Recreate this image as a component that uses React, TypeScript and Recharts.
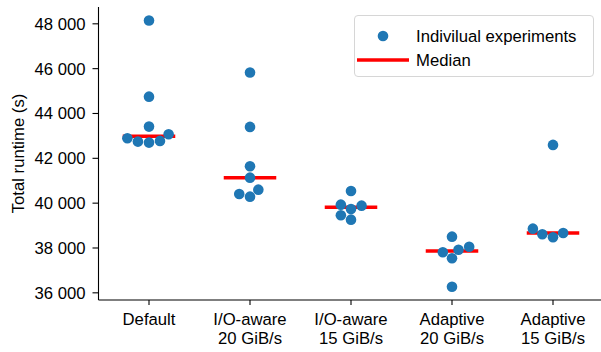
import React from 'react';
import { ScatterChart, Scatter, XAxis, YAxis, ReferenceLine, Legend } from 'recharts';

// ---- data ----
const categoryLine1 = ['Default', 'I/O-aware', 'I/O-aware', 'Adaptive', 'Adaptive'];
const categoryLine2 = ['', '20 GiB/s', '15 GiB/s', '20 GiB/s', '15 GiB/s'];
const defaultRuns = [48150, 44750, 43415, 43076, 42897, 42777, 42746, 42701];
const ioAware20Runs = [45826, 43402, 41647, 41138, 40603, 40411, 40290];
const ioAware15Runs = [40545, 39934, 39889, 39741, 39460, 39264];
const adaptive20Runs = [38506, 38058, 37924, 37808, 37540, 36272];
const adaptive15Runs = [42598, 38862, 38670, 38612, 38478];
const yTicks = [36000, 38000, 40000, 42000, 44000, 46000, 48000];
const xTicks = [0, 1, 2, 3, 4];

const groups = [defaultRuns, ioAware20Runs, ioAware15Runs, adaptive20Runs, adaptive15Runs];

// ---- layout ----
const CHART_W = 610;
const CHART_H = 352;
const MARGIN = { top: 7, right: 6.5, left: 0, bottom: 0 };
const Y_AXIS_W = 98.5;
const X_AXIS_H = 52;
const X_DOMAIN: [number, number] = [-0.5, 4.5];
const Y_DOMAIN: [number, number] = [35680, 48750];
const PLOT_W = CHART_W - MARGIN.left - MARGIN.right - Y_AXIS_W;
const PLOT_H = CHART_H - MARGIN.top - MARGIN.bottom - X_AXIS_H;
const PX_X = PLOT_W / (X_DOMAIN[1] - X_DOMAIN[0]);
const PX_Y = PLOT_H / (Y_DOMAIN[1] - Y_DOMAIN[0]);
const R = 5.3;
const FONT = '"Liberation Sans", Arial, Helvetica, sans-serif';
const FS = 16.7;
const BLUE = '#1f77b4';
const RED = '#ff0000';
const MED_HALF = 0.26;

// beeswarm layout (seaborn-like) in pixel space
function swarmOffsets(values: number[]): number[] {
  const order = values.map((v, i) => i).sort((a, b) => values[a] - values[b]);
  const placed: { x: number; y: number }[] = [];
  const out: number[] = new Array(values.length).fill(0);
  const d = 2 * R;
  for (const idx of order) {
    const y = values[idx] * PX_Y;
    const nb = placed.filter((p) => Math.abs(p.y - y) < d);
    const cands: number[] = [0];
    for (const p of nb) {
      const dy = y - p.y;
      const dx = Math.sqrt(Math.max(d * d - dy * dy, 0)) * 1.05;
      cands.push(p.x - dx, p.x + dx);
    }
    const sorted = cands
      .map((c, k) => ({ c, k }))
      .sort((a, b) => Math.abs(a.c) - Math.abs(b.c) || a.k - b.k)
      .map((o) => o.c);
    let chosen = sorted[sorted.length - 1];
    for (const c of sorted) {
      const ok = nb.every((p) => Math.hypot(p.x - c, p.y - y) >= d - 0.01);
      if (ok) {
        chosen = c;
        break;
      }
    }
    placed.push({ x: chosen, y });
    out[idx] = chosen / PX_X;
  }
  return out;
}

function median(vals: number[]): number {
  const s = [...vals].sort((a, b) => a - b);
  const n = s.length;
  return n % 2 ? s[(n - 1) / 2] : (s[n / 2 - 1] + s[n / 2]) / 2;
}

const points = groups.flatMap((vals, gi) => {
  const offs = swarmOffsets(vals);
  return vals.map((v, i) => ({ x: gi + offs[i], y: v }));
});
const medians = groups.map((vals) => median(vals));

const fmt = (v: number) => String(v).replace(/\B(?=(\d{3})+(?!\d))/g, ' ');

const XTick = (props: any) => {
  const { x, y, payload } = props;
  const i = Math.round(payload.value);
  return (
    <text x={x} y={y} textAnchor="middle" fontSize={FS} fontFamily={FONT} fill="#000">
      <tspan x={x} dy="0.71em">{categoryLine1[i]}</tspan>
      {categoryLine2[i] ? <tspan x={x} dy={19.6}>{categoryLine2[i]}</tspan> : null}
    </text>
  );
};

const YLabel = (props: any) => {
  const vb = props.viewBox || {};
  const cy = (vb.y ?? MARGIN.top) + (vb.height ?? PLOT_H) / 2;
  const x = 24;
  return (
    <text
      x={x}
      y={cy}
      transform={`rotate(-90, ${x}, ${cy})`}
      textAnchor="middle"
      fontSize={FS}
      fontFamily={FONT}
      fill="#000"
    >
      Total runtime (s)
    </text>
  );
};

const Dot = (props: any) => {
  const { cx, cy } = props;
  if (cx == null || cy == null) return null;
  return <circle cx={cx} cy={cy} r={R} fill={BLUE} />;
};

const LegendBox = () => (
  <div
    style={{
      width: 240,
      height: 62,
      boxSizing: 'border-box',
      border: '1px solid #d6d6d6',
      borderRadius: 4,
      background: 'rgba(255,255,255,0.8)',
      position: 'relative',
      fontFamily: FONT,
      fontSize: FS,
      color: '#000',
    }}
  >
    <svg width={240} height={62} style={{ position: 'absolute', left: -1, top: -1 }}>
      <circle cx={29} cy={21} r={R} fill={BLUE} />
      <line x1={3} x2={55} y1={45} y2={45} stroke={RED} strokeWidth={3.5} />
      <text x={62} y={21} dy="0.355em" fontSize={FS} fontFamily={FONT} fill="#000">
        Indivilual experiments
      </text>
      <text x={62} y={45} dy="0.355em" fontSize={FS} fontFamily={FONT} fill="#000">
        Median
      </text>
    </svg>
  </div>
);

export default function App() {
  return (
    <div
      style={{
        position: 'absolute',
        left: 0,
        top: 0,
        width: 601,
        height: 352,
        overflow: 'hidden',
        background: '#fff',
      }}
    >
      <ScatterChart width={CHART_W} height={CHART_H} margin={MARGIN}>
        <XAxis
          xAxisId="main"
          type="number"
          dataKey="x"
          domain={X_DOMAIN}
          ticks={xTicks}
          allowDataOverflow
          height={X_AXIS_H}
          tickSize={5}
          tickMargin={8}
          tick={<XTick />}
          axisLine={{ stroke: '#000', strokeWidth: 1.1 }}
          tickLine={{ stroke: '#000', strokeWidth: 1.1 }}
          interval={0}
        />
        <XAxis
          xAxisId="top"
          orientation="top"
          type="number"
          domain={X_DOMAIN}
          height={0}
          tick={false}
          tickLine={false}
          axisLine={{ stroke: '#000', strokeWidth: 1.1 }}
        />
        <YAxis
          yAxisId="main"
          type="number"
          dataKey="y"
          domain={Y_DOMAIN}
          ticks={yTicks}
          allowDataOverflow
          width={Y_AXIS_W}
          tickSize={6}
          tickMargin={7}
          tickFormatter={fmt}
          tick={{ fontSize: FS, fontFamily: FONT, fill: '#000' }}
          axisLine={{ stroke: '#000', strokeWidth: 1.1 }}
          tickLine={{ stroke: '#000', strokeWidth: 1.1 }}
          label={<YLabel />}
        />
        <YAxis
          yAxisId="right"
          orientation="right"
          type="number"
          domain={Y_DOMAIN}
          width={0}
          tick={false}
          tickLine={false}
          axisLine={{ stroke: '#000', strokeWidth: 1.1 }}
        />
        {medians.map((m, i) => (
          <ReferenceLine
            key={`med-${i}`}
            xAxisId="main"
            yAxisId="main"
            segment={[
              { x: i - MED_HALF, y: m },
              { x: i + MED_HALF, y: m },
            ]}
            stroke={RED}
            strokeWidth={3.5}
            ifOverflow="visible"
          />
        ))}
        <Scatter
          xAxisId="main"
          yAxisId="main"
          name="Indivilual experiments"
          data={points}
          fill={BLUE}
          shape={<Dot />}
          isAnimationActive={false}
        />
        <Legend
          layout="vertical"
          align="center"
          verticalAlign="middle"
          content={<LegendBox />}
          wrapperStyle={{ left: 354, top: 15, width: 240, height: 62, bottom: 'auto', right: 'auto' }}
        />
      </ScatterChart>
    </div>
  );
}
